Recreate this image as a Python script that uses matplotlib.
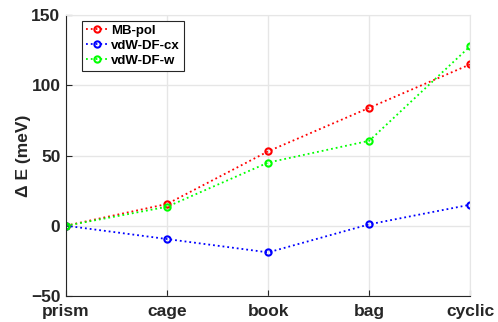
import matplotlib
matplotlib.use("Agg")
import matplotlib.pyplot as plt

plt.rcParams["font.family"] = ["Liberation Sans", "DejaVu Sans"]
plt.rcParams["font.weight"] = "bold"

structures = ["prism", "cage", "book", "bag", "cyclic"]
mb_pol = [0, 15.5, 53, 84, 115]
vdw_cx = [0, -9.5, -19, 1, 15]
vdw_w = [0, 13.5, 45, 60.5, 128]

fig = plt.figure(figsize=(4.98, 3.22), dpi=100)
ax = fig.add_axes([0.1325, 0.081, 0.812, 0.872])

x = list(range(len(structures)))
for vals, col, lab in [(mb_pol, "#ff0000", "MB-pol"),
                       (vdw_cx, "#0000ff", "vdW-DF-cx"),
                       (vdw_w, "#00ff00", "vdW-DF-w")]:
    ax.plot(x, vals, ls=":", color=col, lw=1.3, marker="o", ms=4.5,
            mfc="none", mew=1.5, label=lab)

ax.set_xlim(0, 4)
ax.set_ylim(-50, 150)
ax.set_xticks(x)
ax.set_xticklabels(structures)
ax.set_yticks([-50, 0, 50, 100, 150])
ax.grid(True, color="#e6e6e6", lw=1)
ax.set_axisbelow(True)
ax.tick_params(direction="in", length=4, labelsize=12.5, color="#262626",
               labelcolor="#262626")
ax.tick_params(axis="x", pad=6)
ax.tick_params(axis="y", pad=4)
for s in ("left", "bottom"):
    ax.spines[s].set_color("#262626")
for s in ("top", "right"):
    ax.spines[s].set_color("#e6e6e6")
ax.set_ylabel("\u0394 E (meV)", fontsize=12.5, fontweight="bold",
              color="#262626", labelpad=0)

leg = ax.legend(loc="upper left", bbox_to_anchor=(0.04, 0.98), fontsize=9.5,
                fancybox=False, edgecolor="#262626", framealpha=1,
                handlelength=1.6, handletextpad=0.3, borderpad=0.3,
                labelspacing=0.2, borderaxespad=0)
leg.get_frame().set_linewidth(0.8)

fig.savefig("out.png", dpi=100)
